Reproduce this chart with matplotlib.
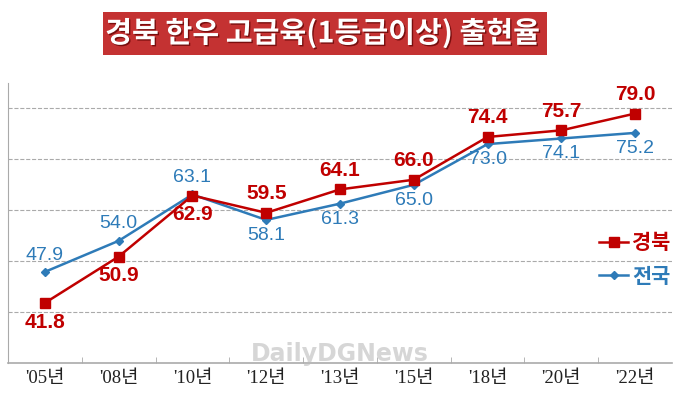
import numpy as np
import matplotlib
matplotlib.use('Agg')
import matplotlib.pyplot as plt
from matplotlib.patches import FancyBboxPatch
import matplotlib.patheffects as pe

plt.rcParams['font.family'] = ['Noto Sans CJK KR', 'DejaVu Sans']

years = ["'05년", "'08년", "'10년", "'12년", "'13년", "'15년", "'18년", "'20년", "'22년"]
gyeongbuk = [41.8, 50.9, 62.9, 59.5, 64.1, 66.0, 74.4, 75.7, 79.0]
national = [47.9, 54.0, 63.1, 58.1, 61.3, 65.0, 73.0, 74.1, 75.2]

red = '#C00000'
blue = '#2E7BB8'

fig = plt.figure(figsize=(6.8, 3.95), dpi=100)
ax = fig.add_axes([8/680, 32/395, 664/680, 280/395])

x = np.arange(len(years))
ax.plot(x, national, color=blue, lw=1.8, marker='D', ms=4.5, label='전국', zorder=3)
ax.plot(x, gyeongbuk, color=red, lw=1.8, marker='s', ms=6.5, label='경북', zorder=4)

numfont = ['Liberation Sans', 'DejaVu Sans']
# red labels: below for first three, above otherwise
for i, v in enumerate(gyeongbuk):
    if i < 3:
        ax.annotate(f'{v:.1f}', (i, v), xytext=(0, -7), textcoords='offset points',
                    ha='center', va='top', color=red, fontsize=15, fontweight='bold',
                    family=numfont)
    else:
        ax.annotate(f'{v:.1f}', (i, v), xytext=(0, 7), textcoords='offset points',
                    ha='center', va='bottom', color=red, fontsize=15, fontweight='bold',
                    family=numfont)

for i, v in enumerate(national):
    if i < 3:
        ax.annotate(f'{v:.1f}', (i, v), xytext=(0, 6), textcoords='offset points',
                    ha='center', va='bottom', color=blue, fontsize=14, family=numfont)
    else:
        ax.annotate(f'{v:.1f}', (i, v), xytext=(0, -5), textcoords='offset points',
                    ha='center', va='top', color=blue, fontsize=14, family=numfont)

ax.set_xlim(-0.5, len(years) - 0.5)
ax.set_ylim(30, 85)
ax.set_yticks([40, 50, 60, 70, 80])
ax.yaxis.grid(True, ls='--', color='#AAAAAA', lw=0.8)
ax.tick_params(axis='y', length=0, labelleft=False)
ax.set_xticks(x)
ax.set_xticklabels(years, fontsize=13.5, color='#222222',
                   family=['Liberation Serif', 'Noto Sans CJK KR'])
ax.set_xticks(np.arange(0.5, len(years) - 0.5, 1), minor=True)
ax.tick_params(axis='x', which='major', length=0, pad=5)
ax.tick_params(axis='x', which='minor', length=4, direction='in', color='#AAAAAA')
for s in ['top', 'right']:
    ax.spines[s].set_visible(False)
ax.spines['left'].set_color('#AAAAAA')
ax.spines['bottom'].set_color('#AAAAAA')
ax.spines['bottom'].set_linewidth(1.2)

handles, labels = ax.get_legend_handles_labels()
leg = ax.legend(handles[::-1], labels[::-1], loc='center left', bbox_to_anchor=(0.862, 0.37),
                frameon=False, fontsize=15, handlelength=1.4, handletextpad=0.2, labelspacing=0.6,
                prop={'weight': 'bold', 'size': 15})
leg.get_texts()[0].set_color(red)
leg.get_texts()[1].set_color(blue)

# watermark
fig.text(0.5, 0.105, 'DailyDGNews', fontsize=17, fontweight='bold', color='#BBBBBB',
         alpha=0.6, ha='center', va='center', family=['DejaVu Sans'])

# title box
box = FancyBboxPatch((103/680, 1 - 55/395), 444/680, 43/395, boxstyle='square,pad=0',
                     transform=fig.transFigure, facecolor='#C43232', edgecolor='none')
fig.patches.append(box)
fig.text(323/680, 1 - 33/395, '경북 한우 고급육(1등급이상) 출현율', color='white',
         fontsize=21, fontweight='bold', ha='center', va='center',
         path_effects=[pe.withSimplePatchShadow(offset=(1, -1), shadow_rgbFace='#5A0000', alpha=0.7)])

fig.savefig('out.png', dpi=100)
